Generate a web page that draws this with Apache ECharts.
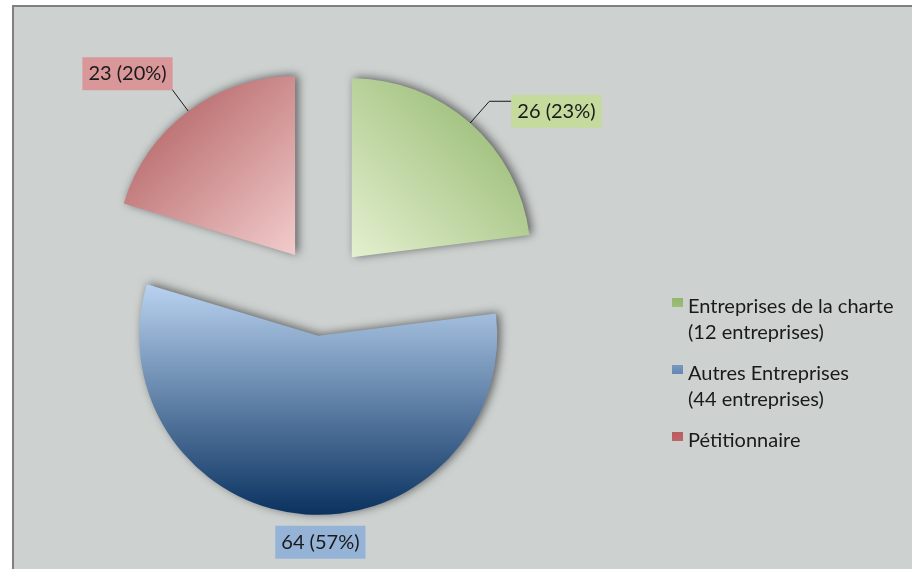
<!DOCTYPE html>
<html>
<head>
<meta charset="utf-8">
<script src="https://cdn.jsdelivr.net/npm/echarts@6/dist/echarts.min.js"></script>
<style>
  html, body { margin: 0; padding: 0; background: #ffffff; }
  #frame { position: absolute; left: 12px; top: 5px; width: 910px; height: 570px;
           box-sizing: border-box; border-top: 2px solid #7f807f; border-left: 2px solid #7f807f;
           background: #cdd1d0; }
  #chart { position: absolute; left: 0; top: 0; width: 912px; height: 569px; }
</style>
</head>
<body>
<div id="frame"></div>
<div id="chart"></div>
<script>
// ---- data ----
const categories = [
  'Entreprises de la charte\n(12 entreprises)',
  'Autres Entreprises\n(44 entreprises)',
  'Pétitionnaire'
];
const values = [26, 64, 23];

// ---- styles ----
const sliceColors = [
  { type: 'linear', x: 0, y: 1, x2: 1, y2: 0, colorStops: [{ offset: 0, color: '#e4f0cf' }, { offset: 1, color: '#8cb266' }] },
  { type: 'linear', x: 0, y: 0, x2: 0, y2: 1, colorStops: [{ offset: 0, color: '#b9d2f0' }, { offset: 1, color: '#0a3260' }] },
  { type: 'linear', x: 0, y: 0, x2: 1, y2: 1, colorStops: [{ offset: 0, color: '#ab5456' }, { offset: 1, color: '#f2cccc' }] }
];
const iconColors = [
  { type: 'linear', x: 0, y: 1, x2: 1, y2: 0, colorStops: [{ offset: 0, color: '#c9dca8' }, { offset: 1, color: '#8cb266' }] },
  { type: 'linear', x: 0, y: 0, x2: 0, y2: 1, colorStops: [{ offset: 0, color: '#7f9fc8' }, { offset: 1, color: '#1c3f6e' }] },
  { type: 'linear', x: 0, y: 0, x2: 1, y2: 1, colorStops: [{ offset: 0, color: '#b5575a' }, { offset: 1, color: '#dc8d8f' }] }
];
const labelBg = ['#c5da9d', '#95b3d7', '#d9979a'];
const lineConf = [
  { show: true, length: 29, length2: 22 },
  { show: false, length: 10, length2: 0 },
  { show: true, length: 28, length2: 2 }
];
const labelShift = [[0, 10], [63, 18], [3, -15]];
const legendIcon = 'path://M0,0 M0,51 M0,4 L11,4 L11,13 L0,13 Z';

const font = 'Lato, "Open Sans", sans-serif';

const chart = echarts.init(document.getElementById('chart'), null, { renderer: 'canvas' });
chart.setOption({
  animation: false,
  backgroundColor: 'transparent',
  legend: {
    orient: 'vertical',
    left: 667,
    top: 289,
    itemWidth: 11,
    itemHeight: 51,
    itemGap: 16,
    selectedMode: false,
    formatter: function (name) { return name.indexOf('\n') < 0 ? name + '\n ' : name; },
    textStyle: { fontFamily: font, fontSize: 20, color: '#1a1a1a', lineHeight: 25.5 },
    data: categories.map((n, i) => ({ name: n, icon: legendIcon, itemStyle: { color: iconColors[i] } }))
  },
  series: [{
    type: 'pie',
    center: [322, 291],
    radius: [0, 179],
    startAngle: 90,
    clockwise: true,
    selectedMode: 'multiple',
    selectedOffset: 45,
    percentPrecision: 0,
    emphasis: { disabled: true },
    label: {
      show: true,
      position: 'outside',
      formatter: '{c} ({d}%)',
      fontFamily: font,
      fontSize: 20,
      color: '#1a1a1a',
      padding: [7, 6, 6, 6],
      distanceToLabelLine: 0
    },
    labelLine: { lineStyle: { color: '#1a1a1a', width: 1 } },
    labelLayout: function (p) {
      const s = labelShift[p.dataIndex];
      return { dx: s[0], dy: s[1] };
    },
    itemStyle: {
      shadowBlur: 10, shadowColor: 'rgba(0,0,0,0.55)', shadowOffsetX: 3, shadowOffsetY: -1
    },
    data: values.map((v, i) => ({
      name: categories[i],
      value: v,
      selected: true,
      itemStyle: { color: sliceColors[i] },
      label: { backgroundColor: labelBg[i] },
      labelLine: lineConf[i]
    }))
  }]
});
</script>
</body>
</html>
